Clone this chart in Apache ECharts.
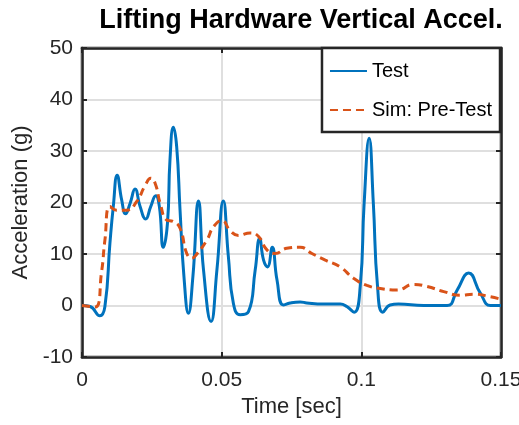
<!DOCTYPE html>
<html>
<head>
<meta charset="utf-8">
<script src="https://cdn.jsdelivr.net/npm/echarts@6/dist/echarts.min.js"></script>
<style>
html,body{margin:0;padding:0;background:#fff;overflow:hidden;}
#c{width:519px;height:425px;}
</style>
</head>
<body>
<div id="c"></div>
<script>
// ---- data ----
var testT = [0, 0.0029, 0.0064, 0.0082, 0.0100, 0.0112, 0.0126, 0.0142, 0.0156, 0.0172, 0.0190, 0.0208, 0.0228, 0.0246, 0.0264, 0.0277, 0.0291, 0.0306, 0.0315, 0.0327, 0.0339, 0.0351, 0.0365, 0.0381, 0.0397, 0.0417, 0.0435, 0.0462, 0.0483, 0.0506, 0.0524, 0.0542, 0.0566, 0.0596, 0.0620, 0.0636, 0.0650, 0.0664, 0.0681, 0.0698, 0.0721, 0.0745, 0.0781, 0.0805, 0.0865, 0.0925, 0.0948, 0.0974, 0.0996, 0.1010, 0.1028, 0.1043, 0.1058, 0.1077, 0.1103, 0.1133, 0.1223, 0.1307, 0.1343, 0.1384, 0.1426, 0.1462, 0.1500];
var testV = [0, -0.2, -2.0, -0.2, 12.1, 19.2, 25.3, 20.5, 17.8, 19.8, 22.6, 19.2, 16.8, 19.2, 21.3, 19.2, 11.3, 16.0, 28.3, 34.6, 30.8, 18.5, 5.6, -1.5, 5.6, 20.3, 6.9, -3.1, 6.9, 20.3, 9.5, 0.4, -1.8, -1.2, 6.9, 13.0, 8.8, 7.5, 11.3, 5.0, 0.1, 0.5, 0.7, 0.5, 0.3, 0.3, -0.2, -1.3, 3.7, 19.8, 32.5, 19.8, 3.7, -1.3, 0.1, 0.3, 0, 0, 3.0, 6.3, 2.4, 0, 0];

var simT = [0, 0.0047, 0.0070, 0.0082, 0.0100, 0.0124, 0.0160, 0.0196, 0.0226, 0.0246, 0.0262, 0.0280, 0.0303, 0.0327, 0.0351, 0.0375, 0.0393, 0.0411, 0.0447, 0.0471, 0.0501, 0.0531, 0.0560, 0.0602, 0.0632, 0.0662, 0.0691, 0.0733, 0.0781, 0.0823, 0.0871, 0.0924, 0.0972, 0.1020, 0.1068, 0.1128, 0.1187, 0.1235, 0.1295, 0.1354, 0.1402, 0.1462, 0.1500];
var simV = [0, -0.3, 6.5, 12.7, 19.2, 18.5, 18.5, 20.2, 23.3, 24.7, 23.7, 19.8, 16.6, 16.3, 15.0, 10.1, 9.2, 10.0, 12.7, 15.3, 16.5, 14.5, 13.6, 14.1, 13.4, 10.8, 10.1, 11.1, 11.3, 10.1, 8.8, 7.5, 5.3, 3.9, 3.3, 3.0, 4.1, 3.7, 2.7, 2.0, 2.2, 1.7, 1.2];

var xTicks = [0, 0.05, 0.1, 0.15];
var yTicks = [-10, 0, 10, 20, 30, 40, 50];
var seriesNames = ['Test', 'Sim: Pre-Test'];
var titleText = 'Lifting Hardware Vertical Accel.';
var xLabel = 'Time [sec]';
var yLabel = 'Acceleration (g)';

function pairs(t, v) { return t.map(function (x, i) { return [x, v[i]]; }); }

var FONT = 'Liberation Sans, Arial, Helvetica, sans-serif';
var DARK = '#262626';

var chart = echarts.init(document.getElementById('c'), null, {renderer: 'canvas'});
var xBase = {
  type: 'value', min: xTicks[0], max: xTicks[xTicks.length - 1], interval: xTicks[1] - xTicks[0]
};
var yBase = {
  type: 'value', min: yTicks[0], max: yTicks[yTicks.length - 1], interval: yTicks[1] - yTicks[0]
};
var tickStyle = {show: true, inside: true, length: 5, lineStyle: {color: DARK, width: 2}};
var lineStyleAxis = {show: true, onZero: false, lineStyle: {color: DARK, width: 2.5}};
chart.setOption({
  animation: false,
  backgroundColor: '#ffffff',
  title: {
    text: titleText,
    left: 301, top: 7, textAlign: 'center', padding: 0,
    textStyle: {fontFamily: FONT, fontSize: 27, fontWeight: 'bold', color: '#000'}
  },
  grid: {left: 82, right: 18, top: 48, bottom: 68, show: true,
         containLabel: false, outerBoundsMode: 'none',
         borderColor: DARK, borderWidth: 2.5, backgroundColor: '#fff'},
  legend: {
    data: seriesNames,
    orient: 'vertical',
    right: 19, top: 48,
    padding: [13, 8, 12, 7],
    itemGap: 19,
    itemWidth: 37, itemHeight: 20,
    backgroundColor: '#fff',
    borderColor: DARK, borderWidth: 2.5, borderRadius: 0,
    itemStyle: {opacity: 0, borderWidth: 0},
    textStyle: {fontFamily: FONT, fontSize: 20, color: '#000', lineHeight: 20, padding: [0,0,0,0]}
  },
  xAxis: [
    Object.assign({}, xBase, {
      position: 'bottom',
      name: xLabel, nameLocation: 'middle', nameGap: 38,
      nameTextStyle: {fontFamily: FONT, fontSize: 22, color: DARK},
      axisLine: lineStyleAxis,
      axisTick: tickStyle,
      axisLabel: {fontFamily: FONT, fontSize: 21, color: DARK, margin: 13},
      splitLine: {show: true, lineStyle: {color: '#dfdfdf', width: 2}}
    }),
    Object.assign({}, xBase, {
      position: 'top',
      axisLine: lineStyleAxis,
      axisTick: tickStyle,
      axisLabel: {show: false}, splitLine: {show: false}
    })
  ],
  yAxis: [
    Object.assign({}, yBase, {
      position: 'left',
      name: yLabel, nameLocation: 'middle', nameGap: 48, nameRotate: 90,
      nameTextStyle: {fontFamily: FONT, fontSize: 22, color: DARK},
      axisLine: lineStyleAxis,
      axisTick: tickStyle,
      axisLabel: {fontFamily: FONT, fontSize: 21, color: DARK, margin: 9},
      splitLine: {show: true, lineStyle: {color: '#dfdfdf', width: 2}}
    }),
    Object.assign({}, yBase, {
      position: 'right',
      axisLine: lineStyleAxis,
      axisTick: tickStyle,
      axisLabel: {show: false}, splitLine: {show: false}
    })
  ],
  series: [
    {
      name: seriesNames[0], type: 'line', xAxisIndex: 0, yAxisIndex: 0,
      data: pairs(testT, testV), showSymbol: false, symbol: 'none', smooth: 0.5,
      color: '#0072BD',
      lineStyle: {color: '#0072BD', width: 3}, z: 3
    },
    {
      name: seriesNames[1], type: 'line', xAxisIndex: 0, yAxisIndex: 0,
      data: pairs(simT, simV), showSymbol: false, symbol: 'none', smooth: 0.5,
      color: '#D95319',
      lineStyle: {color: '#D95319', width: 3, type: [8, 5]}, z: 4
    }
  ]
});
</script>
</body>
</html>
